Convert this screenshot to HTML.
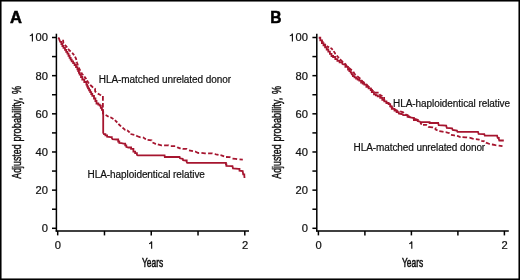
<!DOCTYPE html>
<html><head><meta charset="utf-8"><style>
html,body{margin:0;padding:0;background:#fff;}
body{width:520px;height:280px;overflow:hidden;}
svg{display:block;}
svg{will-change:transform;}
text{font-family:"Liberation Sans",sans-serif;fill:#111;stroke:#111;stroke-width:0.2px;}
</style></head><body>
<svg width="520" height="280" viewBox="0 0 520 280">
<rect x="0" y="0" width="520" height="280" fill="#fff"/>
<rect x="0.75" y="0.75" width="518.5" height="278.5" fill="none" stroke="#000" stroke-width="1.6"/>
<g stroke="#000" stroke-width="1.5" fill="none">
<line x1="56.4" y1="33.7" x2="56.4" y2="231.6" />
<line x1="55.65" y1="230.9" x2="249.0" y2="230.9" />
<line x1="52.00" y1="228.30" x2="56.4" y2="228.30" />
<line x1="52.00" y1="209.22" x2="56.4" y2="209.22" />
<line x1="52.00" y1="190.14" x2="56.4" y2="190.14" />
<line x1="52.00" y1="171.06" x2="56.4" y2="171.06" />
<line x1="52.00" y1="151.98" x2="56.4" y2="151.98" />
<line x1="52.00" y1="132.90" x2="56.4" y2="132.90" />
<line x1="52.00" y1="113.82" x2="56.4" y2="113.82" />
<line x1="52.00" y1="94.74" x2="56.4" y2="94.74" />
<line x1="52.00" y1="75.66" x2="56.4" y2="75.66" />
<line x1="52.00" y1="56.58" x2="56.4" y2="56.58" />
<line x1="52.00" y1="37.50" x2="56.4" y2="37.50" />
<line x1="57.70" y1="230.9" x2="57.70" y2="235.4" />
<line x1="104.48" y1="230.9" x2="104.48" y2="235.4" />
<line x1="151.25" y1="230.9" x2="151.25" y2="235.4" />
<line x1="198.03" y1="230.9" x2="198.03" y2="235.4" />
<line x1="244.80" y1="230.9" x2="244.80" y2="235.4" />
<line x1="316.8" y1="33.7" x2="316.8" y2="231.6" />
<line x1="316.05" y1="230.9" x2="508.8" y2="230.9" />
<line x1="312.40" y1="228.30" x2="316.8" y2="228.30" />
<line x1="312.40" y1="209.22" x2="316.8" y2="209.22" />
<line x1="312.40" y1="190.14" x2="316.8" y2="190.14" />
<line x1="312.40" y1="171.06" x2="316.8" y2="171.06" />
<line x1="312.40" y1="151.98" x2="316.8" y2="151.98" />
<line x1="312.40" y1="132.90" x2="316.8" y2="132.90" />
<line x1="312.40" y1="113.82" x2="316.8" y2="113.82" />
<line x1="312.40" y1="94.74" x2="316.8" y2="94.74" />
<line x1="312.40" y1="75.66" x2="316.8" y2="75.66" />
<line x1="312.40" y1="56.58" x2="316.8" y2="56.58" />
<line x1="312.40" y1="37.50" x2="316.8" y2="37.50" />
<line x1="318.40" y1="230.9" x2="318.40" y2="235.4" />
<line x1="364.90" y1="230.9" x2="364.90" y2="235.4" />
<line x1="411.40" y1="230.9" x2="411.40" y2="235.4" />
<line x1="457.90" y1="230.9" x2="457.90" y2="235.4" />
<line x1="504.40" y1="230.9" x2="504.40" y2="235.4" />
</g>
<g fill="none" stroke="#a6152f" stroke-width="1.8" stroke-linejoin="miter">
<path d="M58.20 37.60 L58.90 38.30 L59.60 40.40 L60.30 41.90 L61.40 41.90 L61.40 44.00 L62.40 44.00 L62.40 46.00 L63.50 46.00 L63.50 47.90 L65.00 47.90 L65.00 49.90 L66.20 49.90 L66.20 51.80 L67.40 51.80 L67.40 53.60 L68.50 53.60 L68.50 55.75 L69.60 55.75 L69.60 57.90 L70.65 57.90 L70.65 59.65 L71.70 59.65 L71.70 61.40 L73.15 61.40 L73.15 63.20 L74.60 63.20 L74.60 65.00 L76.00 65.00 L76.00 67.15 L77.40 67.15 L77.40 69.30 L78.17 69.30 L78.17 71.03 L78.93 71.03 L78.93 72.77 L79.70 72.77 L79.70 74.50 L81.00 74.50 L81.00 77.00 L82.30 77.00 L82.30 79.50 L84.30 79.50 L84.30 82.00 L86.40 82.00 L86.40 84.60 L87.20 84.60 L87.20 86.50 L88.00 86.50 L88.00 88.40 L89.10 88.40 L89.10 90.25 L90.20 90.25 L90.20 92.10 L91.25 92.10 L91.25 94.00 L92.30 94.00 L92.30 95.90 L94.00 95.90 L94.00 98.50 L95.40 98.50 L95.40 101.00 L96.50 101.00 L96.50 103.50 L98.30 103.50 L98.30 104.60 L99.70 104.60 L99.70 105.60 L100.80 105.60 L100.80 107.80 L101.90 107.80 L101.90 109.90 L102.90 109.90 L102.90 111.00 L103.20 111.50 L103.20 132.80 L103.90 134.20 L105.40 134.20 L105.40 135.30 L107.10 135.30 L107.10 136.70 L110.70 137.10 L111.80 137.10 L111.80 138.10 L112.50 139.20 L116.80 139.50 L118.20 139.50 L118.20 141.50 L119.30 141.50 L119.30 143.00 L121.40 143.20 L123.60 143.70 L125.20 143.70 L125.20 145.30 L126.30 145.30 L126.30 146.90 L128.40 147.50 L131.10 147.50 L131.10 148.90 L133.40 148.90 L133.40 151.60 L135.15 151.60 L135.15 153.15 L136.90 153.15 L136.90 154.70 L137.80 155.40 L164.60 155.40 L164.80 157.00 L179.60 157.00 L180.00 158.30 L182.70 158.75 L183.10 160.10 L185.80 160.50 L186.70 160.50 L186.70 162.00 L187.20 162.80 L225.50 162.80 L225.95 162.80 L225.95 164.30 L226.40 164.30 L226.40 165.80 L232.50 166.20 L233.00 168.40 L238.40 168.90 L239.50 168.90 L239.50 170.60 L242.70 171.00 L243.20 174.30 L244.30 174.30 L244.30 175.40 L244.50 178.00"/>
<path d="M318.70 37.75 L320.30 37.75 L320.30 40.40 L321.90 40.40 L321.90 43.10 L323.50 43.10 L323.50 45.30 L325.10 45.30 L325.10 47.40 L326.70 47.40 L326.70 49.50 L328.30 49.50 L328.30 51.70 L329.90 51.70 L329.90 53.80 L331.50 53.80 L331.50 56.00 L333.10 56.00 L333.10 57.00 L335.30 57.00 L335.30 59.20 L337.40 59.20 L337.40 60.80 L339.60 60.80 L339.60 62.40 L342.30 62.40 L342.30 63.80 L343.20 64.30 L345.40 64.30 L345.40 66.80 L348.00 66.80 L348.00 69.50 L349.35 69.50 L349.35 71.10 L350.70 71.10 L350.70 72.70 L351.80 72.70 L351.80 74.45 L352.90 74.45 L352.90 76.20 L354.50 76.20 L354.50 77.40 L356.10 77.40 L356.10 78.60 L357.70 78.60 L357.70 79.65 L359.30 79.65 L359.30 80.70 L361.10 80.70 L361.10 82.50 L362.70 82.50 L362.70 83.55 L364.30 83.55 L364.30 84.60 L366.40 84.60 L366.40 86.80 L368.60 86.80 L368.60 88.40 L370.70 88.40 L370.70 90.00 L371.80 90.00 L371.80 92.10 L374.00 92.10 L374.00 94.30 L375.85 94.30 L375.85 95.35 L377.70 95.35 L377.70 96.40 L380.20 96.40 L380.20 97.80 L382.30 97.80 L382.30 99.80 L384.30 99.80 L384.30 101.40 L386.40 101.40 L386.40 103.00 L388.60 103.00 L388.60 104.10 L390.20 104.10 L390.20 106.30 L391.80 106.30 L391.80 108.90 L394.50 108.90 L394.50 110.50 L396.60 110.50 L396.60 112.10 L398.80 112.10 L398.80 113.60 L401.40 114.00 L402.60 114.20 L403.20 115.20 L405.90 115.20 L407.50 115.20 L407.50 116.80 L410.20 117.30 L412.90 117.90 L413.90 117.90 L413.90 120.00 L416.60 120.00 L417.70 120.00 L417.70 121.10 L419.80 121.60 L420.40 122.10 L428.00 122.10 L429.60 122.10 L429.60 123.00 L438.20 123.00 L438.70 125.20 L446.20 125.70 L446.80 127.90 L452.10 128.40 L452.70 130.00 L456.90 130.50 L457.50 131.80 L478.00 131.80 L478.60 133.80 L483.40 134.20 L484.30 134.20 L484.80 135.70 L497.10 135.70 L497.70 137.90 L498.80 137.90 L498.80 138.90 L499.30 140.50 L503.80 140.50"/>
<path d="M63.10 39.70 L63.10 39.70 L63.30 42.90 L63.70 43.42 M64.90 45.00 L64.90 45.00 L66.50 46.60 L67.12 47.47 M68.11 48.88 L68.90 50.00 L70.65 51.54 M72.09 52.80 L72.20 52.90 L74.15 55.18 M75.01 56.55 L76.00 58.60 L76.35 59.98 M76.83 61.82 L77.00 62.50 L77.90 65.62 M78.58 67.52 L80.34 70.78 M81.28 72.44 L82.00 73.70 L83.24 75.20 M84.36 76.55 L84.40 76.60 L86.20 79.00 L86.21 79.03 M87.01 80.41 L88.20 82.50 L89.00 83.46 M90.21 84.90 L90.30 85.00 L92.50 87.00 L93.21 87.43 M94.96 88.47 L95.00 88.50 L95.20 91.50 L96.10 92.26 M97.78 93.64 L100.00 94.80 L101.13 95.27 M102.90 96.00 L102.90 96.00 L102.90 100.69 M102.90 103.10 L102.90 107.59 M102.90 109.90 L102.90 113.50 L103.61 113.88 M105.62 114.96 L105.70 115.00 L108.60 116.72 M110.29 117.30 L111.00 117.50 L113.45 119.02 M114.87 120.21 L117.30 122.50 M118.44 123.78 L119.80 125.30 L121.06 126.37 M122.50 127.60 L122.50 127.60 L125.20 130.00 L125.32 130.02 M127.23 130.29 L127.30 130.30 L129.50 132.30 L129.64 132.53 M130.50 134.00 L130.50 134.00 L134.32 134.93 M136.20 135.62 L137.50 136.30 L139.70 137.20 L140.57 137.23 M142.99 137.30 L143.00 137.30 L145.40 138.90 L145.94 139.12 M147.60 139.80 L147.60 139.80 L151.60 140.40 L151.65 140.52 M152.50 142.50 L152.50 142.50 L155.60 143.80 L156.00 143.90 M157.88 144.39 L157.90 144.40 L161.40 145.30 L161.94 145.30 M164.10 145.30 L168.60 145.30 L168.61 145.31 M170.80 146.10 L170.80 146.10 L175.17 146.10 M177.13 147.18 L177.50 147.40 L180.00 148.30 L180.69 148.45 M182.60 148.88 L182.70 148.90 L186.70 148.90 L187.03 149.10 M189.00 150.30 L189.00 150.30 L192.98 151.20 M195.06 151.48 L195.20 151.50 L198.30 153.00 L199.13 152.95 M201.40 152.80 L201.40 152.80 L205.00 153.30 L205.81 153.31 M208.10 153.34 L212.20 153.40 L212.53 153.48 M214.76 153.99 L214.80 154.00 L216.00 154.30 L218.52 154.81 M220.46 155.21 L221.40 155.40 L224.13 156.35 M226.01 157.00 L229.80 157.20 L230.44 157.53 M232.51 158.60 L235.70 158.80 L237.14 159.03 M239.51 159.40 L242.80 159.60"/>
<path d="M321.34 39.94 L322.00 41.00 L323.28 42.53 M324.35 43.81 L325.10 44.70 L325.79 45.25 M326.62 45.90 L327.50 46.60 L329.10 47.36 M330.45 48.00 L331.50 48.50 L332.70 49.91 M333.70 51.10 L333.70 51.10 L335.30 53.80 L335.58 54.12 M336.78 55.51 L337.90 56.80 L338.98 57.94 M340.12 59.19 L341.10 60.40 L343.01 61.95 M344.56 63.31 L347.00 66.30 L347.13 66.40 M348.73 67.71 L350.20 68.90 L351.85 70.24 M353.27 71.72 L354.50 73.80 L355.63 74.93 M357.21 76.26 L358.80 77.50 L360.39 78.71 M361.70 80.29 L362.50 81.50 L364.00 82.50 L364.59 82.99 M366.18 84.32 L366.40 84.50 L369.13 87.04 M370.65 88.45 L370.70 88.50 L373.00 91.00 L373.42 91.36 M375.00 92.70 L375.00 92.70 L378.62 92.70 M379.58 94.19 L380.00 95.00 L382.43 96.18 M384.10 97.00 L384.10 97.00 L384.10 100.20 L384.57 100.64 M386.00 102.00 L388.60 103.50 L389.13 104.16 M390.36 105.71 L391.00 106.50 L393.14 108.34 M394.67 109.59 L397.00 110.80 L398.19 111.04 M400.13 111.44 L403.20 112.30 L403.83 112.90 M405.41 114.25 L408.00 115.80 L410.33 117.03 M412.90 118.40 L412.90 118.40 L417.10 119.50 L418.27 120.57 M420.48 122.66 L421.00 123.80 L421.94 124.27 M423.00 124.80 L423.00 124.80 L426.30 124.80 L426.84 125.31 M428.35 126.75 L428.40 126.80 L432.30 127.30 L433.07 127.47 M435.48 128.00 L435.50 128.00 L435.50 129.50 L437.53 130.36 M439.30 131.10 L439.30 131.10 L442.50 131.60 L443.52 131.79 M445.68 132.20 L445.70 132.20 L449.40 133.20 L449.53 133.33 M451.00 134.80 L451.00 134.80 L454.30 135.40 L454.96 135.54 M457.00 135.98 L458.00 136.20 L460.40 137.00 L460.57 137.01 M462.49 137.12 L465.70 137.30 L467.11 137.45 M469.48 137.70 L469.50 137.70 L472.70 138.60 L473.68 138.78 M475.88 139.20 L475.90 139.20 L479.10 139.70 L479.55 139.88 M481.34 140.61 L481.80 140.80 L484.30 141.40 L484.53 141.57 M485.90 142.63 L486.00 142.70 L489.60 144.00 L489.81 144.04 M491.92 144.43 L492.30 144.50 L495.50 145.20 L496.34 145.30 M498.64 145.58 L498.80 145.60 L502.50 146.20"/>
</g>
<g font-size="10">
<text transform="translate(47.9,232.20) scale(1.12,1)" text-anchor="end">0</text>
<text transform="translate(47.9,194.04) scale(1.12,1)" text-anchor="end">20</text>
<text transform="translate(47.9,155.88) scale(1.12,1)" text-anchor="end">40</text>
<text transform="translate(47.9,117.72) scale(1.12,1)" text-anchor="end">60</text>
<text transform="translate(47.9,79.56) scale(1.12,1)" text-anchor="end">80</text>
<text transform="translate(47.9,41.40) scale(1.12,1)" text-anchor="end"><tspan style="fill:none;stroke:none">1</tspan>00</text>
<path d="M29.80 35.80 C31.10 35.60 32.05 34.90 32.40 33.60 L32.40 41.40" fill="none" stroke="#111" stroke-width="1.15"/>
<text transform="translate(57.90,248.8) scale(1.12,1)" text-anchor="middle">0</text>
<path d="M149.05 243.70 C150.35 243.50 151.30 242.80 151.65 241.50 L151.65 248.80" fill="none" stroke="#111" stroke-width="1.15"/>
<text transform="translate(245.00,248.8) scale(1.12,1)" text-anchor="middle">2</text>
<text transform="translate(307.9,232.20) scale(1.12,1)" text-anchor="end">0</text>
<text transform="translate(307.9,194.04) scale(1.12,1)" text-anchor="end">20</text>
<text transform="translate(307.9,155.88) scale(1.12,1)" text-anchor="end">40</text>
<text transform="translate(307.9,117.72) scale(1.12,1)" text-anchor="end">60</text>
<text transform="translate(307.9,79.56) scale(1.12,1)" text-anchor="end">80</text>
<text transform="translate(307.9,41.40) scale(1.12,1)" text-anchor="end"><tspan style="fill:none;stroke:none">1</tspan>00</text>
<path d="M289.80 35.80 C291.10 35.60 292.05 34.90 292.40 33.60 L292.40 41.40" fill="none" stroke="#111" stroke-width="1.15"/>
<text transform="translate(318.60,248.8) scale(1.12,1)" text-anchor="middle">0</text>
<path d="M409.20 243.70 C410.50 243.50 411.45 242.80 411.80 241.50 L411.80 248.80" fill="none" stroke="#111" stroke-width="1.15"/>
<text transform="translate(504.60,248.8) scale(1.12,1)" text-anchor="middle">2</text>
<text x="98.8" y="82.8" textLength="132.2" lengthAdjust="spacing">HLA-matched unrelated donor</text>
<text x="87.5" y="177.5" textLength="117.4" lengthAdjust="spacing">HLA-haploidentical relative</text>
<text x="393.1" y="106.8" textLength="117" lengthAdjust="spacing">HLA-haploidentical relative</text>
<text x="353.6" y="150.7" textLength="131.6" lengthAdjust="spacing">HLA-matched unrelated donor</text>
</g>
<text transform="translate(152.55,266.5) scale(0.65,1)" text-anchor="middle" font-size="13" style="stroke-width:0.55px">Years</text>
<text transform="translate(21,178.7) rotate(-90) scale(0.678,1)" font-size="13" style="stroke-width:0.45px">Adjusted</text>
<text transform="translate(21,141.6) rotate(-90) scale(0.711,1)" font-size="13" style="stroke-width:0.45px">probability,</text>
<text transform="translate(21,94.1) rotate(-90) scale(0.69,1)" font-size="13" style="stroke-width:0.45px">%</text>
<text transform="translate(412.55,266.5) scale(0.65,1)" text-anchor="middle" font-size="13" style="stroke-width:0.55px">Years</text>
<text transform="translate(281,178.7) rotate(-90) scale(0.678,1)" font-size="13" style="stroke-width:0.45px">Adjusted</text>
<text transform="translate(281,141.6) rotate(-90) scale(0.711,1)" font-size="13" style="stroke-width:0.45px">probability,</text>
<text transform="translate(281,94.1) rotate(-90) scale(0.69,1)" font-size="13" style="stroke-width:0.45px">%</text>
<g font-weight="bold" font-size="15.6">
<text transform="translate(10.1,22.8) scale(1.06,1)" style="fill:#000;stroke:#000;stroke-width:0.5px">A</text>
<text transform="translate(270.2,22.8) scale(1.0,1)" style="fill:#000;stroke:#000;stroke-width:0.5px">B</text>
</g>
</svg>
</body></html>
